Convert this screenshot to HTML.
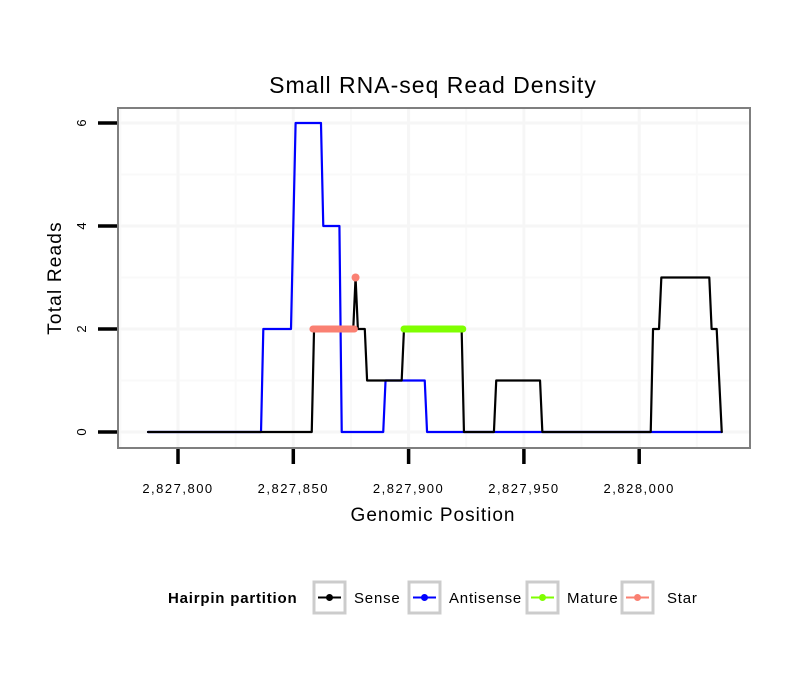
<!DOCTYPE html>
<html><head><meta charset="utf-8"><style>
body{margin:0;background:#fff;}
svg text{font-family:"Liberation Sans",Arial,sans-serif;}
</style></head><body>
<svg id="chart" width="810" height="690" viewBox="0 0 810 690"></svg>
<script>
const xTicks=[-0,50,100,150,200];
const xTickLabels=["2,827,800","2,827,850","2,827,900","2,827,950","2,828,000"];
const yTicks=[0,2,4,6];
const sensePos=[-13,58,59,76,77,78,81,82,97,98,123,124,137,138,157,158,205,206,208.6,209.6,230.4,231.4,233.6,235.8];
const senseVal=[0,0,2,2,3,2,2,1,1,2,2,0,0,1,1,0,0,2,2,3,3,2,2,0];
const antiPos=[-13,36,37,49,51,62,63,70,71,89,90,107,108,235.8];
const antiVal=[0,0,2,2,6,6,4,4,0,0,1,1,0,0];
const maturePos=[98,123.5];
const matureVal=[2,2];
const starPos=[58.5,76.5,77];
const starVal=[2,2,3];

const NS="http://www.w3.org/2000/svg";
const svg=document.getElementById('chart');
const X=v=>178+v*2.306;
const Y=v=>432-v*51.5;
function el(t,a,p){const e=document.createElementNS(NS,t);for(const k in a)e.setAttribute(k,a[k]);(p||svg).appendChild(e);return e;}

let bg=el('rect',{x:118,y:108,width:632,height:340,fill:'#fff'});


[-25,25,75,125,175,225].forEach(v=>{if(X(v)>118&&X(v)<750){let g=el('line',{x1:X(v),x2:X(v),y1:108,y2:448,stroke:'#f9f9f9','stroke-width':2});}});
[1,3,5].forEach(v=>{let g=el('line',{x1:118,x2:750,y1:Y(v),y2:Y(v),stroke:'#f9f9f9','stroke-width':2});});
xTicks.forEach(v=>{let g=el('line',{x1:X(v),x2:X(v),y1:108,y2:448,stroke:'#f6f6f6','stroke-width':3});});
yTicks.forEach(v=>{let g=el('line',{x1:118,x2:750,y1:Y(v),y2:Y(v),stroke:'#f6f6f6','stroke-width':3});});

function line(pos,val,color,w,name){
  const pts=pos.map((p,i)=>X(p)+','+Y(val[i])).join(' ');
  const l=el('polyline',{points:pts,fill:'none',stroke:color,'stroke-width':w,'stroke-linejoin':'round','stroke-linecap':'round'});
  
  
}
line(antiPos,antiVal,'#0000ff',2.2,'antisense-line');
line(sensePos,senseVal,'#000',2.2,'sense-line');
line(maturePos,matureVal,'#7fff00',7,'mature-line');
line(starPos.slice(0,2),starVal.slice(0,2),'#fa8072',7,'star-line');
let sd=el('circle',{cx:X(starPos[2]),cy:Y(starVal[2]),r:4,fill:'#fa8072'});



let br=el('rect',{x:118,y:108,width:632,height:340,fill:'none',stroke:'#7f7f7f','stroke-width':2});



xTicks.forEach((v,i)=>{
  let t=el('line',{x1:X(v),x2:X(v),y1:449,y2:464,stroke:'#000','stroke-width':3.5});
  
  
  let tx=el('text',{x:X(v),y:493,'text-anchor':'middle','font-size':13,'letter-spacing':1.5});
  tx.textContent=xTickLabels[i];
  
  
});
yTicks.forEach(v=>{
  let t=el('line',{x1:98,x2:117,y1:Y(v),y2:Y(v),stroke:'#000','stroke-width':3.5});
  
  
  let tx=el('text',{x:0,y:0,'text-anchor':'middle','font-size':13,transform:`translate(86,${Y(v)}) rotate(-90)`});
  tx.textContent=v;
  
  
});
</script>
<svg style="position:absolute;left:0;top:0" width="810" height="690">
<text x="433" y="93" text-anchor="middle" font-size="23" letter-spacing="1">Small RNA-seq Read Density</text>
<text x="433" y="521" text-anchor="middle" font-size="19" letter-spacing="1">Genomic Position</text>
<text transform="translate(61,278) rotate(-90)" text-anchor="middle" font-size="19" letter-spacing="1.2">Total Reads</text>
<g font-size="15" letter-spacing="0.8">
<text x="168" y="603" font-weight="bold">Hairpin partition</text>
<g>
<rect x="314" y="582" width="31" height="31" fill="#fff" stroke="#ccc" stroke-width="3"/>
<line x1="318" x2="341" y1="597.5" y2="597.5" stroke="#000" stroke-width="2"/><circle cx="329.5" cy="597.5" r="3.5" fill="#000"/>
<text x="354" y="603">Sense</text></g>
<g>
<rect x="409" y="582" width="31" height="31" fill="#fff" stroke="#ccc" stroke-width="3"/>
<line x1="413" x2="436" y1="597.5" y2="597.5" stroke="#00f" stroke-width="2"/><circle cx="424.5" cy="597.5" r="3.5" fill="#00f"/>
<text x="449" y="603">Antisense</text></g>
<g>
<rect x="527" y="582" width="31" height="31" fill="#fff" stroke="#ccc" stroke-width="3"/>
<line x1="531" x2="554" y1="597.5" y2="597.5" stroke="#7fff00" stroke-width="2"/><circle cx="542.5" cy="597.5" r="3.5" fill="#7fff00"/>
<text x="567" y="603">Mature</text></g>
<g>
<rect x="622" y="582" width="31" height="31" fill="#fff" stroke="#ccc" stroke-width="3"/>
<line x1="626" x2="649" y1="597.5" y2="597.5" stroke="#fa8072" stroke-width="2"/><circle cx="637.5" cy="597.5" r="3.5" fill="#fa8072"/>
<text x="667" y="603">Star</text></g>
</g>
</svg>
</body></html>
